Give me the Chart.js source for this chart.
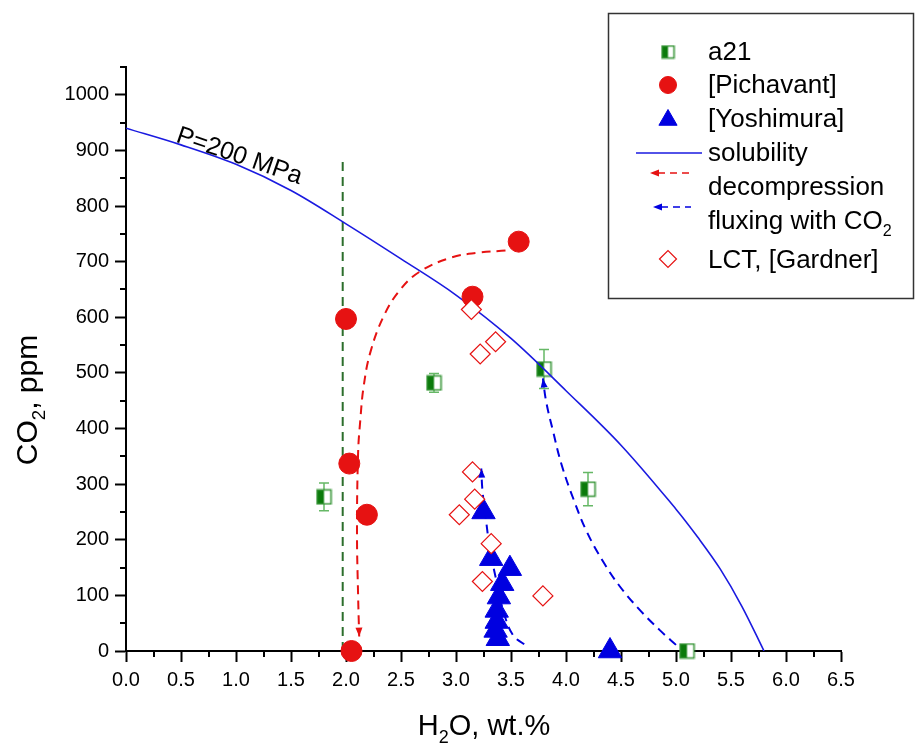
<!DOCTYPE html>
<html>
<head>
<meta charset="utf-8">
<script src="https://cdn.jsdelivr.net/npm/chart.js@4.4.0/dist/chart.umd.min.js"></script>
<style>
  html, body { margin: 0; background: #fff; }
  canvas { display: block; }
</style>
</head>
<body>
<canvas id="grafico" width="915" height="747"></canvas>
<script>
// a21 samples (with CO2 error bars)
const a21X = [1.8, 2.8, 3.8, 4.2, 5.1];
const a21Y = [277, 482, 507, 291, 0];
const a21Err = [25, 17, 35, 30, 0];

// [Pichavant]
const pichX = [2.0, 2.03, 2.19, 2.05, 3.15, 3.57];
const pichY = [597, 337, 245, 0, 637, 736];

// [Yoshimura]
const yoshX = [3.25, 3.32, 3.49, 3.42, 3.39, 3.37, 3.37, 3.36, 3.38, 4.4];
const yoshY = [250, 166, 148, 121, 97, 73, 53, 37, 22, 0];

// LCT, [Gardner]
const gardX = [3.14, 3.36, 3.22, 3.15, 3.17, 3.03, 3.32, 3.24, 3.79];
const gardY = [614, 556, 534, 322, 273, 245, 193, 125, 99];

// solubility curve, P=200 MPa
const solX = [0, 0.5, 1.0, 1.5, 2.0, 2.5, 3.0, 3.5, 4.0, 4.5, 5.0, 5.2, 5.4, 5.6, 5.8];
const solY = [940, 910, 875, 828, 768, 705, 640, 562, 468, 370, 255, 204, 148, 80, 0];

// decompression path (red dashed, arrow at the end)
const decX = [3.45, 3.2, 2.95, 2.67, 2.49, 2.34, 2.22, 2.16, 2.13, 2.11, 2.1, 2.11, 2.12];
const decY = [720, 716, 707, 682, 649, 601, 536, 475, 415, 356, 212, 100, 26];

// fluxing with CO2 paths (blue dashed)
const flux1X = [3.62, 3.52, 3.44, 3.38, 3.31, 3.27, 3.24, 3.23];
const flux1Y = [12, 28, 65, 115, 182, 240, 290, 328];
const flux2X = [5.0, 4.85, 4.67, 4.49, 4.34, 4.19, 4.07, 3.96, 3.88, 3.82, 3.79];
const flux2Y = [11, 38, 74, 116, 160, 214, 272, 335, 397, 448, 490];

// green dashed vertical line
const vertX = [1.97, 1.97];
const vertY = [0, 885];

// axes
const xMin = 0, xMax = 6.5, xStep = 0.25;
const yMin = 0, yMax = 1050, yStep = 50;

const FONT = "'Liberation Sans', Arial, sans-serif";
const VERDE = '#0b7a0b';
const VERDE_BORDA = '#3a963a';
const VERMELHO = '#e61212';
const AZUL = '#0000e0';
const AZUL_LINHA = '#1a1ae0';

function pts(xs, ys) {
    return xs.map((x, i) => ({ x: x, y: ys[i] }));
}

// marcador meio preenchido do a21
function quadradoMeio(tam) {
    const c = document.createElement('canvas');
    c.width = tam + 2;
    c.height = tam + 2;
    const g = c.getContext('2d');
    g.fillStyle = '#fff';
    g.fillRect(1, 1, tam, tam);
    g.fillStyle = VERDE;
    g.fillRect(1, 1, tam / 2, tam);
    g.strokeStyle = VERDE_BORDA;
    g.lineWidth = 1.5;
    g.strokeRect(1.5, 1.5, tam - 1, tam - 1);
    return c;
}

const marcaA21 = quadradoMeio(15);
const marcaA21Leg = quadradoMeio(13);

function ehMaiorX(v) { return Math.abs(v * 2 - Math.round(v * 2)) < 1e-6; }
function ehMaiorY(v) { return Math.abs(v / 100 - Math.round(v / 100)) < 1e-6; }

// texto com subscrito: partes = [[texto, sub?], ...]
function larguraPartes(ctx, partes, tam) {
    let w = 0;
    partes.forEach(p => {
        ctx.font = (p[1] ? tam * 0.62 : tam) + 'px ' + FONT;
        w += ctx.measureText(p[0]).width;
    });
    return w;
}

function escrevePartes(ctx, partes, x, y, tam, centro) {
    let cx = centro ? x - larguraPartes(ctx, partes, tam) / 2 : x;
    ctx.textAlign = 'left';
    ctx.textBaseline = 'alphabetic';
    partes.forEach(p => {
        const s = p[1] ? tam * 0.62 : tam;
        ctx.font = s + 'px ' + FONT;
        ctx.fillText(p[0], cx, p[1] ? y + tam * 0.28 : y);
        cx += ctx.measureText(p[0]).width;
    });
}

function ponta(ctx, x, y, ang, cor) {
    ctx.save();
    ctx.translate(x, y);
    ctx.rotate(ang);
    ctx.fillStyle = cor;
    ctx.beginPath();
    ctx.moveTo(0, 0);
    ctx.lineTo(-9, -3.5);
    ctx.lineTo(-9, 3.5);
    ctx.closePath();
    ctx.fill();
    ctx.restore();
}

// barras de erro do a21, por baixo dos marcadores
const barrasErro = {
    id: 'barrasErro',
    beforeDatasetsDraw(chart) {
        const { ctx, scales: { x, y } } = chart;
        ctx.save();
        ctx.strokeStyle = '#66b866';
        ctx.lineWidth = 1.5;
        a21X.forEach((vx, i) => {
            if (!a21Err[i]) return;
            const px = x.getPixelForValue(vx);
            const top = y.getPixelForValue(a21Y[i] + a21Err[i]);
            const bot = y.getPixelForValue(a21Y[i] - a21Err[i]);
            ctx.beginPath();
            ctx.moveTo(px, top); ctx.lineTo(px, bot);
            ctx.moveTo(px - 5, top); ctx.lineTo(px + 5, top);
            ctx.moveTo(px - 5, bot); ctx.lineTo(px + 5, bot);
            ctx.stroke();
        });
        ctx.restore();
    }
};

// setas no fim das linhas tracejadas
const setas = {
    id: 'setas',
    afterDatasetsDraw(chart) {
        const { ctx, scales: { x, y } } = chart;
        [[decX, decY, VERMELHO], [flux1X, flux1Y, AZUL], [flux2X, flux2Y, AZUL]].forEach(([xs, ys, cor]) => {
            const n = xs.length;
            const x1 = x.getPixelForValue(xs[n - 1]), y1 = y.getPixelForValue(ys[n - 1]);
            const x0 = x.getPixelForValue(xs[n - 2]), y0 = y.getPixelForValue(ys[n - 2]);
            ponta(ctx, x1, y1, Math.atan2(y1 - y0, x1 - x0), cor);
        });
    }
};

// ticks menores, títulos dos eixos, rótulo da curva e legenda
const extras = {
    id: 'extras',
    afterDraw(chart) {
        const { ctx, scales: { x, y } } = chart;
        ctx.save();

        ctx.strokeStyle = '#000';
        ctx.lineWidth = 2;
        ctx.beginPath();
        x.ticks.forEach(t => {
            if (ehMaiorX(t.value)) return;
            const px = Math.round(x.getPixelForValue(t.value));
            ctx.moveTo(px, y.bottom); ctx.lineTo(px, y.bottom + 6);
        });
        y.ticks.forEach(t => {
            if (ehMaiorY(t.value)) return;
            const py = Math.round(y.getPixelForValue(t.value));
            ctx.moveTo(x.left, py); ctx.lineTo(x.left - 6, py);
        });
        ctx.stroke();

        ctx.fillStyle = '#000';
        escrevePartes(ctx, [['H', false], ['2', true], ['O, wt.%', false]], 484, 735, 29, true);

        ctx.save();
        ctx.translate(37, 400);
        ctx.rotate(-Math.PI / 2);
        escrevePartes(ctx, [['CO', false], ['2', true], [', ppm', false]], 0, 0, 30, true);
        ctx.restore();

        // P=200 MPa ao longo da curva
        ctx.save();
        ctx.translate(x.getPixelForValue(0.445), y.getPixelForValue(916));
        ctx.rotate(19 * Math.PI / 180);
        ctx.font = '25px ' + FONT;
        ctx.textAlign = 'left';
        ctx.textBaseline = 'alphabetic';
        ctx.fillText('P=200 MPa', 0, 0);
        ctx.restore();

        // legenda
        ctx.fillStyle = '#fff';
        ctx.fillRect(608, 13, 306, 286);
        ctx.strokeStyle = '#333';
        ctx.lineWidth = 1.5;
        ctx.strokeRect(608.5, 13.5, 305, 285);

        const dp = Chart.helpers.drawPoint;
        ctx.drawImage(marcaA21Leg, 668 - marcaA21Leg.width / 2, 52 - marcaA21Leg.height / 2);

        ctx.fillStyle = VERMELHO; ctx.strokeStyle = VERMELHO; ctx.lineWidth = 1;
        dp(ctx, { pointStyle: 'circle', radius: 8.5, borderWidth: 1, rotation: 0 }, 668, 85);

        ctx.fillStyle = AZUL; ctx.strokeStyle = AZUL;
        dp(ctx, { pointStyle: 'triangle', radius: 10.5, borderWidth: 1, rotation: 0 }, 668, 120);

        ctx.strokeStyle = AZUL_LINHA; ctx.lineWidth = 1.6;
        ctx.beginPath(); ctx.moveTo(636, 153); ctx.lineTo(702, 153); ctx.stroke();

        ctx.lineWidth = 1.6;
        ctx.setLineDash([7, 5]);
        ctx.strokeStyle = VERMELHO;
        ctx.beginPath(); ctx.moveTo(658, 173); ctx.lineTo(691, 173); ctx.stroke();
        ctx.strokeStyle = AZUL;
        ctx.beginPath(); ctx.moveTo(661, 207); ctx.lineTo(691, 207); ctx.stroke();
        ctx.setLineDash([]);
        ponta(ctx, 650, 173, Math.PI, VERMELHO);
        ponta(ctx, 653, 207, Math.PI, AZUL);

        ctx.fillStyle = '#fff'; ctx.strokeStyle = VERMELHO; ctx.lineWidth = 1.2;
        dp(ctx, { pointStyle: 'rectRot', radius: 8.5, borderWidth: 1.2, rotation: 0 }, 668, 259);

        ctx.fillStyle = '#000';
        const tl = 26;
        escrevePartes(ctx, [['a21', false]], 708, 60, tl, false);
        escrevePartes(ctx, [['[Pichavant]', false]], 708, 93, tl, false);
        escrevePartes(ctx, [['[Yoshimura]', false]], 708, 127, tl, false);
        escrevePartes(ctx, [['solubility', false]], 708, 161, tl, false);
        escrevePartes(ctx, [['decompression', false]], 708, 195, tl, false);
        escrevePartes(ctx, [['fluxing with CO', false], ['2', true]], 708, 229, tl, false);
        escrevePartes(ctx, [['LCT, [Gardner]', false]], 708, 268, tl, false);

        ctx.restore();
    }
};

const linha = (xs, ys, cor, extra) => Object.assign({
    data: pts(xs, ys),
    showLine: true,
    pointRadius: 0,
    borderColor: cor,
    borderWidth: 2,
    fill: false
}, extra);

new Chart(document.getElementById('grafico'), {
    type: 'scatter',
    data: {
        datasets: [
            {
                label: 'LCT, [Gardner]', order: 0, clip: false,
                data: pts(gardX, gardY),
                pointStyle: 'rectRot', pointRadius: 10,
                backgroundColor: '#fff', borderColor: VERMELHO, borderWidth: 1.2
            },
            {
                label: '[Pichavant]', order: 1, clip: false,
                data: pts(pichX, pichY),
                pointStyle: 'circle', pointRadius: 10.5,
                backgroundColor: VERMELHO, borderColor: VERMELHO, borderWidth: 1
            },
            {
                label: '[Yoshimura]', order: 2, clip: false,
                data: pts(yoshX, yoshY),
                pointStyle: 'triangle', pointRadius: 13.5,
                backgroundColor: AZUL, borderColor: AZUL, borderWidth: 1
            },
            linha(solX, solY, AZUL_LINHA, { label: 'solubility', order: 3, borderWidth: 1.6, tension: 0.35 }),
            {
                label: 'a21', order: 4, clip: false,
                data: pts(a21X, a21Y),
                pointStyle: marcaA21, pointRadius: 8
            },
            linha(decX, decY, VERMELHO, { label: 'decompression', order: 5, borderDash: [9, 6], tension: 0.4 }),
            linha(flux1X, flux1Y, AZUL, { label: 'fluxing with CO2', order: 6, borderDash: [9, 6], tension: 0.4 }),
            linha(flux2X, flux2Y, AZUL, { label: 'fluxing with CO2 ', order: 7, borderDash: [9, 6], tension: 0.4 }),
            linha(vertX, vertY, '#2c6e2c', { label: 'H2O', order: 8, borderDash: [9, 6] })
        ]
    },
    options: {
        responsive: false,
        animation: false,
        events: [],
        layout: { padding: { left: 0, top: 67, right: 74, bottom: 0 } },
        plugins: { legend: { display: false }, tooltip: { enabled: false } },
        scales: {
            x: {
                type: 'linear', min: xMin, max: xMax,
                afterFit: s => { s.height = 96; },
                border: { color: '#000', width: 2 },
                grid: {
                    drawOnChartArea: false, drawTicks: true, tickLength: 11, tickWidth: 2,
                    tickColor: c => ehMaiorX(c.tick.value) ? '#000' : 'rgba(0,0,0,0)'
                },
                ticks: {
                    stepSize: xStep, autoSkip: false, maxRotation: 0, padding: 6,
                    color: '#000', font: { family: FONT, size: 20 },
                    callback: v => ehMaiorX(v) ? v.toFixed(1) : ''
                }
            },
            y: {
                type: 'linear', min: yMin, max: yMax,
                afterFit: s => { s.width = 126; },
                border: { color: '#000', width: 2 },
                grid: {
                    drawOnChartArea: false, drawTicks: true, tickLength: 11, tickWidth: 2,
                    tickColor: c => ehMaiorY(c.tick.value) ? '#000' : 'rgba(0,0,0,0)'
                },
                ticks: {
                    stepSize: yStep, autoSkip: false, padding: 6,
                    color: '#000', font: { family: FONT, size: 20 },
                    callback: v => (ehMaiorY(v) && v <= 1000) ? String(v) : ''
                }
            }
        }
    },
    plugins: [barrasErro, setas, extras]
});
</script>
</body>
</html>
